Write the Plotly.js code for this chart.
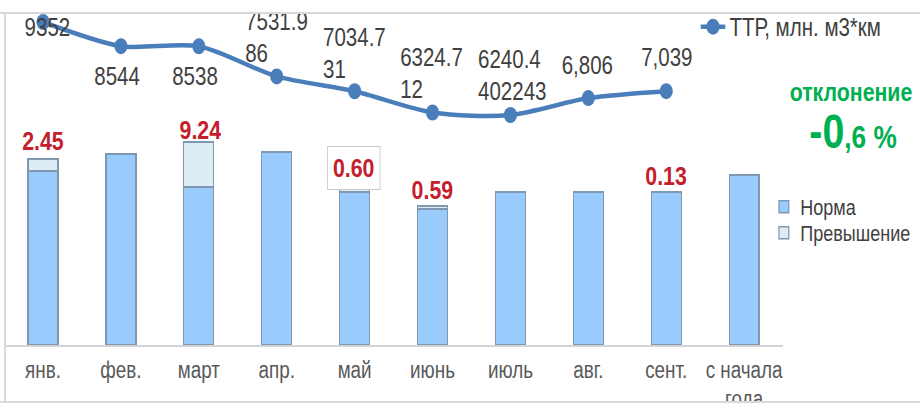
<!DOCTYPE html>
<html>
<head>
<meta charset="utf-8">
<script src="https://cdn.plot.ly/plotly-3.0.1.min.js"></script>
<style>
  html, body { margin: 0; padding: 0; background: #ffffff; }
  #wrap { position: relative; width: 920px; height: 404px; overflow: hidden; }
  #chart { position: absolute; left: 0; top: 0; width: 1122px; height: 404px; transform-origin: 0 0; }
  #maskTop { position: absolute; left: 0; top: 0; width: 920px; height: 12px; background: #fff; border-bottom: 2px solid #d9d9d9; }
  #lineLeft { position: absolute; left: 4px; top: 13px; width: 0; height: 389px; border-left: 2px solid #d9d9d9; }
  #maskBottom { position: absolute; left: 0; top: 401px; width: 920px; height: 3px; background: #fff; border-top: 2px solid #d9d9d9; }
</style>
</head>
<body>
<div id="wrap">
  <div id="chart"></div>
  <div id="maskTop"></div>
  <div id="lineLeft"></div>
  <div id="maskBottom"></div>
</div>
<script>
// ---- data ----
const categories = ['янв.', 'фев.', 'март', 'апр.', 'май', 'июнь', 'июль', 'авг.', 'сент.', 'с начала<br>года'];
const normValues = [52.6, 57.7, 47.7, 58.3, 46.2, 41.1, 46.2, 46.2, 46.2, 51.4];
const excessValues = [3.6, 0, 13.6, 0, 0.9, 0.9, 0, 0, 0.2, 0];
const excessLabels = ['2.45', '', '9.24', '', '0.60', '0.59', '', '', '0.13', ''];
const ttrCategories = ['янв.', 'фев.', 'март', 'апр.', 'май', 'июнь', 'июль', 'авг.', 'сент.'];
const ttrValues = [9352, 8544, 8538, 7531.986, 7034.731, 6324.712, 6240.402243, 6806, 7039];
const ttrLabels = ['9352', '8544', '8538', '7531.9<br>86', '7034.7<br>31', '6324.7<br>12', '6240.4<br>402243', '6,806', '7,039'];
const seriesNames = ['ТТР, млн. м3*км', 'Норма', 'Превышение'];
const deviationTitle = 'отклонение';
const deviationMain = '-0';
const deviationRest = ',6 %';

// ---- styles ----
// The reference uses a narrow face (Arial Narrow look): draw with Liberation Sans
// on a wider canvas and compress it horizontally.
const OUT_W = 920, WIDE_W = 1122;
const S = OUT_W / WIDE_W;
document.getElementById('chart').style.transform = 'scaleX(' + S + ')';
const FONT = '"Liberation Sans", Arial, sans-serif';
const lineColor = '#4a7ebb';
const normFill = '#99cbfc';
const excessFill = '#dcedf5';
const barEdge = '#8197b0';
const redColor = '#c3202b';
const greenColor = '#00b050';
// offsets in output pixels
const ttrLabelShift = [[-20, -5], [-28, -30], [-28, -30], [-33, 39], [-33, 38], [-34, 39], [-34, 40], [-28, 33], [-27, 34]];
const excessLabelShift = [[0, 18], [0, 0], [2, 12], [0, 0], [-1, 21], [0, 16], [0, 0], [0, 0], [0, 15], [0, 0]];

const traces = [
  {
    type: 'bar', x: categories, y: normValues, name: seriesNames[1],
    marker: { color: normFill, line: { color: barEdge, width: 1.5 } },
    width: 0.385, legend: 'legend2', hoverinfo: 'skip'
  },
  {
    type: 'bar', x: categories, y: excessValues, name: seriesNames[2],
    marker: { color: excessFill, line: { color: barEdge, width: 1.5 } },
    width: 0.385, legend: 'legend3', hoverinfo: 'skip'
  },
  {
    type: 'scatter', mode: 'lines+markers', x: ttrCategories, y: ttrValues, yaxis: 'y2',
    name: seriesNames[0],
    line: { color: lineColor, width: 4.5, shape: 'spline', smoothing: 0.8 },
    marker: { color: lineColor, size: 16 },
    cliponaxis: false, legend: 'legend', hoverinfo: 'skip'
  }
];

const annotations = [];
ttrValues.forEach((v, i) => {
  annotations.push({
    x: ttrCategories[i], y: v, xref: 'x', yref: 'y2', text: ttrLabels[i],
    showarrow: false, xanchor: 'left', yanchor: 'middle', align: 'left',
    xshift: ttrLabelShift[i][0] / S, yshift: ttrLabelShift[i][1],
    font: { family: FONT, size: 25, color: '#404040' }
  });
});
excessLabels.forEach((t, i) => {
  if (!t) return;
  const boxed = (t === '0.60');
  annotations.push({
    x: categories[i], y: normValues[i] + excessValues[i], xref: 'x', yref: 'y', text: '<b>' + t + '</b>',
    showarrow: false, xanchor: 'center', yanchor: 'middle',
    xshift: excessLabelShift[i][0] / S, yshift: excessLabelShift[i][1],
    font: { family: FONT, size: 26, color: redColor },
    bgcolor: boxed ? '#ffffff' : 'rgba(0,0,0,0)',
    bordercolor: boxed ? '#c8c8c8' : 'rgba(0,0,0,0)', borderwidth: boxed ? 1 : 0,
    borderpad: boxed ? 6 : 1
  });
});
annotations.push({
  xref: 'paper', yref: 'paper', x: 1.0873, y: 0.764, xanchor: 'center', yanchor: 'middle',
  text: '<b>' + deviationTitle + '</b>', showarrow: false,
  font: { family: FONT, size: 26, color: greenColor }
});
annotations.push({
  xref: 'paper', yref: 'paper', x: 1.0905, y: 0.645, xanchor: 'center', yanchor: 'middle',
  text: '<b>' + deviationMain + '<span style="font-size:32px">' + deviationRest + '</span></b>', showarrow: false,
  font: { family: FONT, size: 48, color: greenColor }
});

const layout = {
  width: WIDE_W, height: 404,
  margin: { l: 4 / S, r: (OUT_W - 783) / S, t: 14, b: 59, autoexpand: false },
  paper_bgcolor: '#ffffff', plot_bgcolor: '#ffffff',
  barmode: 'stack',
  font: { family: FONT, color: '#595959' },
  xaxis: {
    type: 'category', categoryorder: 'array', categoryarray: categories,
    range: [-0.5, 9.5], showgrid: false, zeroline: false,
    showline: true, linecolor: '#d4d4d4', linewidth: 2,
    ticks: '', ticklabelstandoff: 3, automargin: false,
    tickfont: { family: FONT, size: 23, color: '#595959' }
  },
  yaxis: { range: [0, 100], showgrid: false, zeroline: false, showticklabels: false, showline: false },
  yaxis2: { range: [-1455, 9620], overlaying: 'y', side: 'right', showgrid: false, zeroline: false, showticklabels: false, showline: false },
  showlegend: true,
  legend: {
    x: 0.889, y: 0.961, xanchor: 'left', yanchor: 'middle', bgcolor: 'rgba(0,0,0,0)',
    font: { family: FONT, size: 25, color: '#404040' }
  },
  legend2: {
    x: 0.980, y: (345 - 207) / 331, xanchor: 'left', yanchor: 'middle', bgcolor: 'rgba(0,0,0,0)',
    font: { family: FONT, size: 22, color: '#404040' }
  },
  legend3: {
    x: 0.980, y: (345 - 233) / 331, xanchor: 'left', yanchor: 'middle', bgcolor: 'rgba(0,0,0,0)',
    font: { family: FONT, size: 22, color: '#404040' }
  },
  annotations: annotations
};

Plotly.newPlot('chart', traces, layout, { displayModeBar: false, staticPlot: true });
</script>
</body>
</html>
